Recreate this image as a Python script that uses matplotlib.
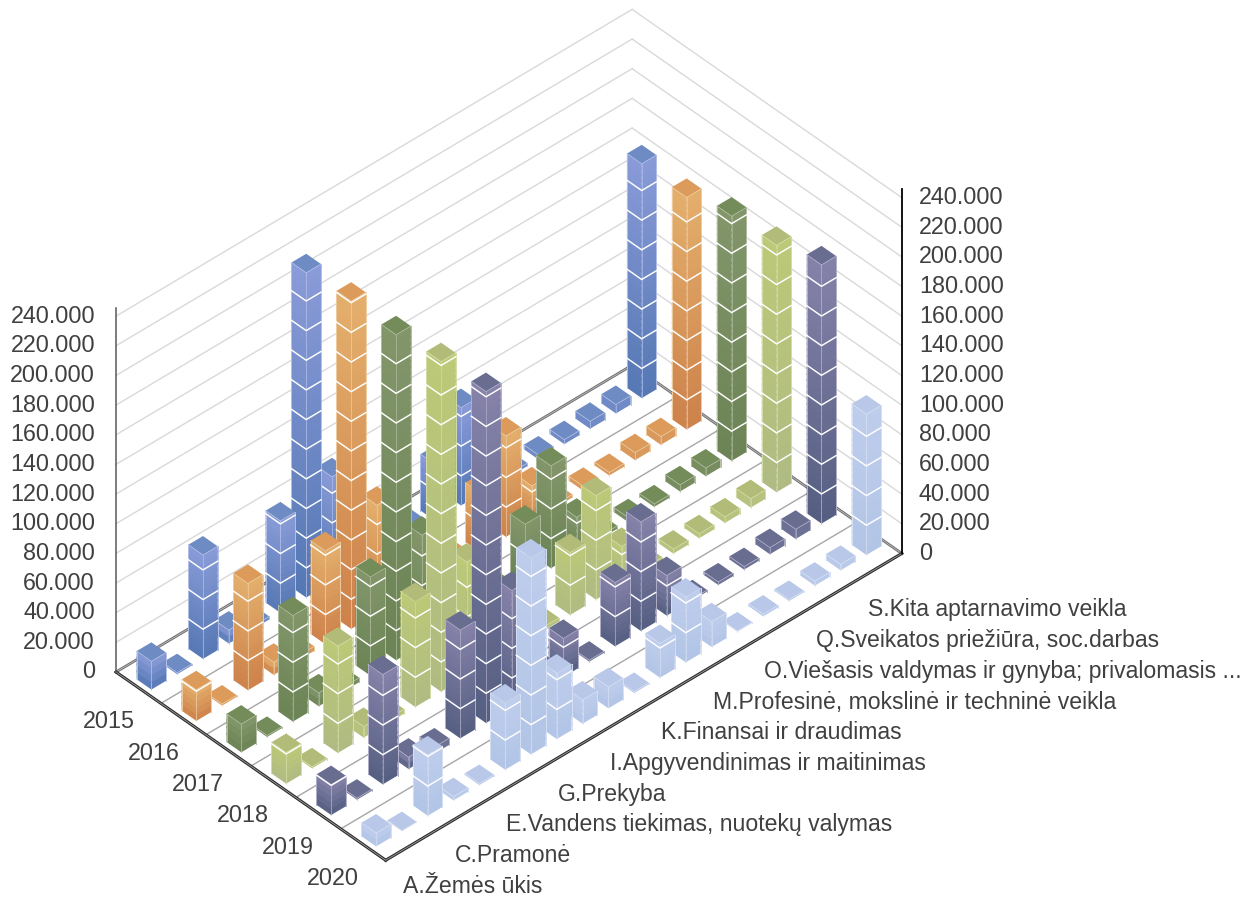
import numpy as np
import matplotlib
matplotlib.use('Agg')
import matplotlib.pyplot as plt
from matplotlib.colors import to_rgb
from mpl_toolkits.mplot3d import proj3d
from mpl_toolkits.mplot3d.art3d import Poly3DCollection

years = ['2015', '2016', '2017', '2018', '2019', '2020']
category_labels = [
    'A.Žemės ūkis', 'C.Pramonė', 'E.Vandens tiekimas, nuotekų valymas', 'G.Prekyba',
    'I.Apgyvendinimas ir maitinimas', 'K.Finansai ir draudimas',
    'M.Profesinė, mokslinė ir techninė veikla',
    'O.Viešasis valdymas ir gynyba; privalomasis ...',
    'Q.Sveikatos priežiūra, soc.darbas', 'S.Kita aptarnavimo veikla',
]
value_ticks = list(range(0, 241, 20))

# thousands (bars hidden behind others are guesses)
v2015 = [19, 1, 70, 9, 2, 62, 219, 71, 15, 6, 6, 38, 66, 5, 2, 3, 3, 5, 6, 158]
v2016 = [21, 1, 72, 8.5, 3, 63, 221, 73, 14, 6, 5, 40, 68, 24, 2, 3, 2, 5, 5.5, 156.5]
v2017 = [19, 1, 71.5, 9, 3, 66.5, 219.5, 74, 15, 6, 5, 40, 69, 24, 2, 3, 2, 4.5, 5.5, 165]
v2018 = [21, 1, 72, 7.5, 3, 71, 222.5, 77, 15, 6, 2.5, 42, 70, 25.5, 2, 3, 3, 4, 6, 166.5]
v2019 = [20.5, 1, 74, 8, 4.5, 73, 223.5, 79, 16, 26, 1, 43, 73.5, 27, 1, 2, 2, 4.5, 6.5, 174.5]
v2020 = [9, 0.3, 41, 2.5, 1, 45, 132.5, 44.5, 16, 14.5, 1, 23, 44, 17, 0.5, 1.5, 1, 3, 4, 95]
series = [v2015, v2016, v2017, v2018, v2019, v2020]

top_colors = ['#899bd8', '#e4af6c', '#82966a', '#bcc977', '#8682aa', '#bfcdec']
bottom_colors = ['#5578b4', '#cd824b', '#6b8355', '#afbb82', '#555f82', '#b2c5e6']
cap_colors = ['#6e8cc3', '#dc9b5a', '#738c5a', '#b2bc78', '#696e91', '#b9c8e8']

n_cat = len(v2015)
n_year = len(years)
half_c, half_r = 0.286, 0.164

plt.rcParams['font.family'] = 'Liberation Sans'
fig = plt.figure(figsize=(12.6, 8.99), dpi=100)
W, H = 1260, 899
side = 1500
ax = fig.add_axes([(W - side) / 2 / W, (H - side) / 2 / H, side / W, side / H], projection='3d')
ax.set_proj_type('ortho')
ax.set_xlim(0, n_cat)
ax.set_ylim(n_year, 0)
ax.set_zlim(0, 240)
ax.set_box_aspect((702, 397.5, 465))
ax.view_init(elev=40.1, azim=-132.7)
ax.set_axis_off()
ax.computed_zorder = False


def to_pixels(c, r, z):
    x, y, _ = proj3d.proj_transform(c, r, z, ax.get_proj())
    return ax.transData.transform((x, y))


# move the box so that the floor corners land where they are in the reference
p0 = to_pixels(0, 0, 0)
p1 = to_pixels(n_cat, n_year, 0)
want0 = np.array([116, H - 672])
want1 = np.array([901.7, H - 552.7])
side = side * np.linalg.norm(want1 - want0) / np.linalg.norm(p1 - p0)
ax.set_position([(W - side) / 2 / W, (H - side) / 2 / H, side / W, side / H])
shift = want0 - to_pixels(0, 0, 0)
ax.set_position([((W - side) / 2 + shift[0]) / W, ((H - side) / 2 + shift[1]) / H, side / W, side / H])

# walls
for z in value_ticks[1:]:
    ax.plot([0, n_cat], [0, 0], [z, z], color='#d9d9d9', lw=1.0, zorder=1)
    ax.plot([n_cat, n_cat], [0, n_year], [z, z], color='#d9d9d9', lw=1.0, zorder=1)

# floor
for r in range(1, n_year):
    ax.plot([0, n_cat], [r, r], [0, 0], color='#a6a6a6', lw=1.0, zorder=2)
ax.plot([0, n_cat], [0, 0], [0, 0], color='#6e6e6e', lw=2.0, zorder=3)
ax.plot([0, n_cat], [0, 0], [0, 0], color='#bdbdbd', lw=0.6, zorder=3)
ax.plot([n_cat, n_cat], [0, n_year], [0, 0], color='#6e6e6e', lw=2.0, zorder=3)
ax.plot([n_cat, n_cat], [0, n_year], [0, 0], color='#bdbdbd', lw=0.6, zorder=3)
ax.plot([0, 0], [0, n_year], [0, 0], color='#2b2b2b', lw=2.2, zorder=4, solid_capstyle='projecting')
ax.plot([0, n_cat], [n_year, n_year], [0, 0], color='#2b2b2b', lw=2.2, zorder=4, solid_capstyle='projecting')
ax.plot([0, 0], [0, n_year], [0, 0], color='#a0a0a0', lw=0.6, zorder=4)
ax.plot([0, n_cat], [n_year, n_year], [0, 0], color='#a0a0a0', lw=0.6, zorder=4)

# value axes stick out a little above the last gridline
ax.plot([0, 0], [0, 0], [0, 245.5], color='#595959', lw=1.1, zorder=5)
ax.plot([n_cat, n_cat], [n_year, n_year], [0, 245.5], color='#000000', lw=1.3, zorder=5)


def draw_bar(c, r, value, top, bottom, cap, order):
    c0, c1 = c + 0.5 - half_c, c + 0.5 + half_c
    r0, r1 = r + 0.5 - half_r, r + 0.5 + half_r
    top, bottom = np.array(to_rgb(top)), np.array(to_rgb(bottom))
    n = max(1, int(value / 4))
    edges = np.linspace(0, value, n + 1)
    verts, colors = [], []
    for i in range(n):
        # slices overlap a bit so the background does not show in the seams
        z0, z1 = edges[i], min(value, edges[i + 1] + 1.5)
        col = bottom + (top - bottom) * (i + 0.5) / n
        verts.append([(c0, r0, z0), (c0, r1, z0), (c0, r1, z1), (c0, r0, z1)])
        verts.append([(c0, r1, z0), (c1, r1, z0), (c1, r1, z1), (c0, r1, z1)])
        colors += [col, col]
    verts.append([(c0, r0, value), (c0, r1, value), (c1, r1, value), (c1, r0, value)])
    colors.append(np.array(to_rgb(cap)))
    poly = Poly3DCollection(verts, facecolors=colors, edgecolors='none', linewidths=0, zorder=order)
    ax.add_collection3d(poly)

    light = top + (1 - top) * 0.35
    # outline and the white band every 20.000
    ax.plot([c0, c0], [r0, r0], [0, value], color=light, lw=0.7, zorder=order + 0.1)
    ax.plot([c1, c1], [r1, r1], [0, value], color=light, lw=0.7, zorder=order + 0.1)
    ax.plot([c0, c0], [r1, r1], [0, value], color=light, lw=0.5, zorder=order + 0.1)
    ax.plot([c0, c0, c1], [r0, r1, r1], [value, value, value], color=light, lw=0.5, zorder=order + 0.1)
    for z in value_ticks[1:]:
        if z < value:
            ax.plot([c0, c0, c1], [r0, r1, r1], [z, z, z], color='white', lw=1.05, zorder=order + 0.2)


order = 10
for r, values in enumerate(series):
    for c in range(n_cat - 1, -1, -1):
        draw_bar(c, r, values[c], top_colors[r], bottom_colors[r], cap_colors[r], order)
        order += 1


def label(c, r, z, dx, dy, s, ha, size=16.8):
    x, y = to_pixels(c, r, z)
    fig.text((x + dx) / W, (y + dy) / H, s, ha=ha, va='center', fontsize=size, color='#404040')


for z in value_ticks:
    s = '0' if z == 0 else f'{z}.000'
    label(0, 0, z, -21, 0, s, 'right')
    label(n_cat, n_year, z, 17, 0, s, 'left')

for r, year in enumerate(years):
    label(0, r + 0.5, 0, -4, -34, year, 'right')

for i, name in enumerate(category_labels):
    label(2 * i + 0.5, n_year, 0, 4.5, -33.5, name, 'left', size=16.6)

fig.savefig('out.png', dpi=100)
